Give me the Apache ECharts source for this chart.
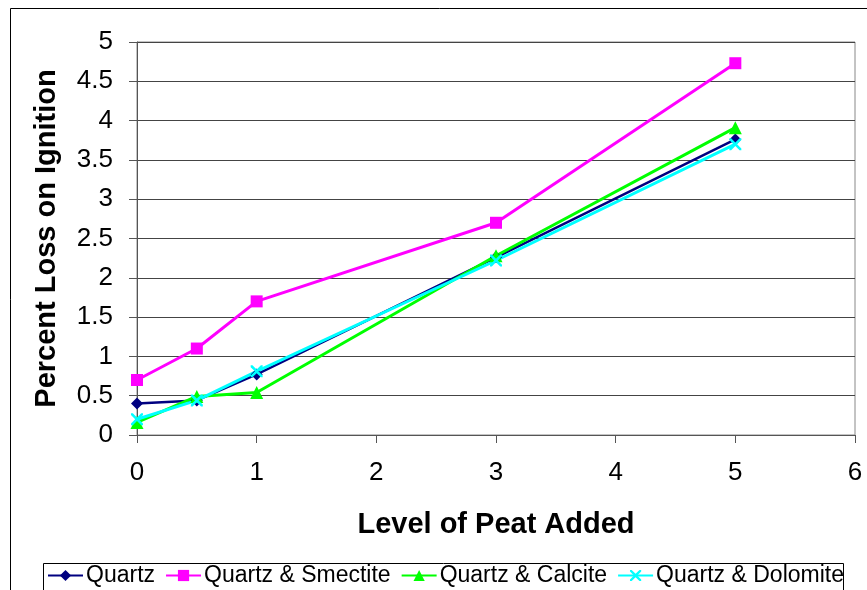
<!DOCTYPE html>
<html>
<head>
<meta charset="utf-8">
<script src="https://cdn.jsdelivr.net/npm/echarts@6/dist/echarts.min.js"></script>
<style>
  html, body { margin: 0; padding: 0; background: #fff; }
  #chart { width: 867px; height: 590px; }
</style>
</head>
<body>
<div id="chart"></div>
<script>
var peat = [0, 0.5, 1, 3, 5];
var quartz = [0.4, 0.44, 0.77, 2.26, 3.76];
var smectite = [0.7, 1.1, 1.7, 2.7, 4.73];
var calcite = [0.16, 0.49, 0.54, 2.28, 3.91];
var dolomite = [0.2, 0.44, 0.81, 2.22, 3.7];
var names = ['Quartz', 'Quartz & Smectite', 'Quartz & Calcite', 'Quartz & Dolomite'];

var font = "'Liberation Sans', Arial, sans-serif";
var xMark = 'path://M0,0 L3,0 L10,7 L17,0 L20,0 L20,3 L13,10 L20,17 L20,20 L17,20 L10,13 L3,20 L0,20 L0,17 L7,10 L0,3 Z';

function pairs(ys) {
	var out = [];
	for (var i = 0; i < peat.length; i++) {
		out.push([peat[i], ys[i]]);
	}
	return out;
}

function makeSeries(name, ys, color, symbol, size, width) {
	return {
		name: name,
		type: 'line',
		data: pairs(ys),
		symbol: symbol,
		symbolSize: size,
		showAllSymbol: true,
		animation: false,
		lineStyle: { color: color, width: width },
		itemStyle: { color: color }
	};
}

var chart = echarts.init(document.getElementById('chart'));
chart.setOption({
	backgroundColor: '#fff',
	textStyle: { fontFamily: font },
	graphic: [
		{ type: 'rect', shape: { x: 10.5, y: 8.5, width: 900, height: 700 },
			style: { fill: 'none', stroke: '#000', lineWidth: 1 }, z: -1 },
		{ type: 'rect', shape: { x: 43.5, y: 563.5, width: 800, height: 60 },
			style: { fill: '#fff', stroke: '#000', lineWidth: 1 }, z: 0 }
	],
	grid: {
		left: 137, right: 12, top: 42, bottom: 155,
		show: true, borderColor: '#888', borderWidth: 1
	},
	xAxis: {
		type: 'value',
		min: 0, max: 6, interval: 1,
		name: 'Level of Peat Added',
		nameLocation: 'middle',
		nameGap: 75,
		nameTextStyle: { fontSize: 29, fontWeight: 'bold', color: '#000', fontFamily: font },
		axisLine: { show: true, lineStyle: { color: '#555', width: 1 } },
		axisTick: { show: true, inside: false, length: 8, lineStyle: { color: '#555' } },
		axisLabel: { fontSize: 26, color: '#000', margin: 25, verticalAlign: 'top', fontFamily: font },
		splitLine: { show: false }
	},
	yAxis: {
		type: 'value',
		min: 0, max: 5, interval: 0.5,
		name: 'Percent Loss on Ignition',
		nameLocation: 'middle',
		nameGap: 76,
		nameTextStyle: { fontSize: 29, fontWeight: 'bold', color: '#000', fontFamily: font },
		axisLine: { show: true, lineStyle: { color: '#555', width: 1 } },
		axisTick: { show: true, inside: false, length: 8, lineStyle: { color: '#555' } },
		axisLabel: { fontSize: 26, color: '#000', margin: 24, fontFamily: font },
		splitLine: { show: true, lineStyle: { color: '#444', width: 1 } }
	},
	legend: {
		data: names,
		left: 47,
		top: 564,
		itemWidth: 35,
		itemHeight: 14,
		itemGap: 10,
		padding: 0,
		z: 5,
		textStyle: { fontSize: 23, color: '#000', fontFamily: font, padding: [2, 0, 0, -2] }
	},
	series: [
		makeSeries(names[0], quartz, '#000080', 'diamond', 12, 2.5),
		makeSeries(names[1], smectite, '#FF00FF', 'rect', 12, 3),
		makeSeries(names[2], calcite, '#00FF00', 'triangle', 13, 3),
		makeSeries(names[3], dolomite, '#00FFFF', xMark, 12, 3)
	]
});
</script>
</body>
</html>
